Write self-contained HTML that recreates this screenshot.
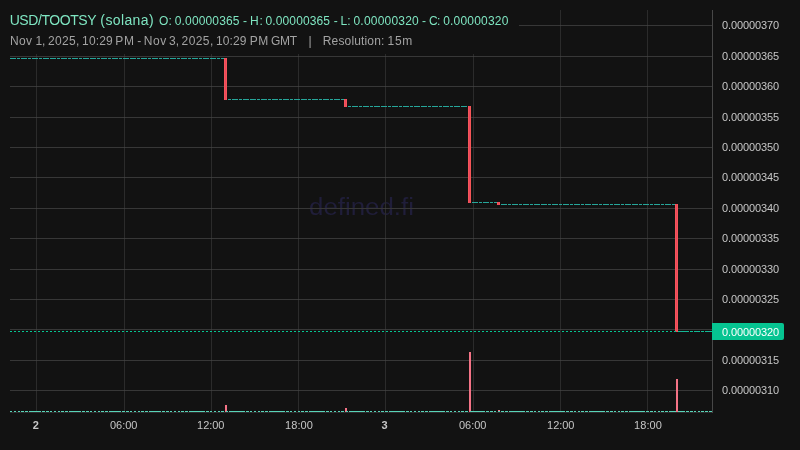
<!DOCTYPE html>
<html><head><meta charset="utf-8"><title>USD/TOOTSY</title>
<style>html,body{margin:0;padding:0;background:#121212;overflow:hidden}body{width:800px;height:450px;position:relative;font-family:"Liberation Sans",sans-serif}</style></head>
<body>
<svg width="800" height="450" viewBox="0 0 800 450" style="display:block;position:absolute;left:0;top:0;will-change:transform" font-family="Liberation Sans, sans-serif">
<rect width="800" height="450" fill="#121212"/>
<text x="309" y="214.6" font-size="23" fill="#201e3a" textLength="105" lengthAdjust="spacingAndGlyphs">defined.fi</text>
<g fill="#2b2b2b" shape-rendering="crispEdges">
<rect x="36" y="10" width="1" height="402"/>
<rect x="124" y="10" width="1" height="402"/>
<rect x="211" y="10" width="1" height="402"/>
<rect x="298" y="10" width="1" height="402"/>
<rect x="385" y="10" width="1" height="402"/>
<rect x="473" y="10" width="1" height="402"/>
<rect x="560" y="10" width="1" height="402"/>
<rect x="647" y="10" width="1" height="402"/>
</g>
<g fill="#373737" shape-rendering="crispEdges">
<rect x="10" y="25" width="702" height="1"/>
<rect x="10" y="56" width="702" height="1"/>
<rect x="10" y="86" width="702" height="1"/>
<rect x="10" y="117" width="702" height="1"/>
<rect x="10" y="147" width="702" height="1"/>
<rect x="10" y="177" width="702" height="1"/>
<rect x="10" y="208" width="702" height="1"/>
<rect x="10" y="238" width="702" height="1"/>
<rect x="10" y="269" width="702" height="1"/>
<rect x="10" y="299" width="702" height="1"/>
<rect x="10" y="329" width="702" height="1"/>
<rect x="10" y="360" width="702" height="1"/>
<rect x="10" y="390" width="702" height="1"/>
</g>
<g fill="#3e3e3e" shape-rendering="crispEdges">
<rect x="36" y="25" width="1" height="1"/>
<rect x="124" y="25" width="1" height="1"/>
<rect x="211" y="25" width="1" height="1"/>
<rect x="298" y="25" width="1" height="1"/>
<rect x="385" y="25" width="1" height="1"/>
<rect x="473" y="25" width="1" height="1"/>
<rect x="560" y="25" width="1" height="1"/>
<rect x="647" y="25" width="1" height="1"/>
<rect x="36" y="56" width="1" height="1"/>
<rect x="124" y="56" width="1" height="1"/>
<rect x="211" y="56" width="1" height="1"/>
<rect x="298" y="56" width="1" height="1"/>
<rect x="385" y="56" width="1" height="1"/>
<rect x="473" y="56" width="1" height="1"/>
<rect x="560" y="56" width="1" height="1"/>
<rect x="647" y="56" width="1" height="1"/>
<rect x="36" y="86" width="1" height="1"/>
<rect x="124" y="86" width="1" height="1"/>
<rect x="211" y="86" width="1" height="1"/>
<rect x="298" y="86" width="1" height="1"/>
<rect x="385" y="86" width="1" height="1"/>
<rect x="473" y="86" width="1" height="1"/>
<rect x="560" y="86" width="1" height="1"/>
<rect x="647" y="86" width="1" height="1"/>
<rect x="36" y="117" width="1" height="1"/>
<rect x="124" y="117" width="1" height="1"/>
<rect x="211" y="117" width="1" height="1"/>
<rect x="298" y="117" width="1" height="1"/>
<rect x="385" y="117" width="1" height="1"/>
<rect x="473" y="117" width="1" height="1"/>
<rect x="560" y="117" width="1" height="1"/>
<rect x="647" y="117" width="1" height="1"/>
<rect x="36" y="147" width="1" height="1"/>
<rect x="124" y="147" width="1" height="1"/>
<rect x="211" y="147" width="1" height="1"/>
<rect x="298" y="147" width="1" height="1"/>
<rect x="385" y="147" width="1" height="1"/>
<rect x="473" y="147" width="1" height="1"/>
<rect x="560" y="147" width="1" height="1"/>
<rect x="647" y="147" width="1" height="1"/>
<rect x="36" y="177" width="1" height="1"/>
<rect x="124" y="177" width="1" height="1"/>
<rect x="211" y="177" width="1" height="1"/>
<rect x="298" y="177" width="1" height="1"/>
<rect x="385" y="177" width="1" height="1"/>
<rect x="473" y="177" width="1" height="1"/>
<rect x="560" y="177" width="1" height="1"/>
<rect x="647" y="177" width="1" height="1"/>
<rect x="36" y="208" width="1" height="1"/>
<rect x="124" y="208" width="1" height="1"/>
<rect x="211" y="208" width="1" height="1"/>
<rect x="298" y="208" width="1" height="1"/>
<rect x="385" y="208" width="1" height="1"/>
<rect x="473" y="208" width="1" height="1"/>
<rect x="560" y="208" width="1" height="1"/>
<rect x="647" y="208" width="1" height="1"/>
<rect x="36" y="238" width="1" height="1"/>
<rect x="124" y="238" width="1" height="1"/>
<rect x="211" y="238" width="1" height="1"/>
<rect x="298" y="238" width="1" height="1"/>
<rect x="385" y="238" width="1" height="1"/>
<rect x="473" y="238" width="1" height="1"/>
<rect x="560" y="238" width="1" height="1"/>
<rect x="647" y="238" width="1" height="1"/>
<rect x="36" y="269" width="1" height="1"/>
<rect x="124" y="269" width="1" height="1"/>
<rect x="211" y="269" width="1" height="1"/>
<rect x="298" y="269" width="1" height="1"/>
<rect x="385" y="269" width="1" height="1"/>
<rect x="473" y="269" width="1" height="1"/>
<rect x="560" y="269" width="1" height="1"/>
<rect x="647" y="269" width="1" height="1"/>
<rect x="36" y="299" width="1" height="1"/>
<rect x="124" y="299" width="1" height="1"/>
<rect x="211" y="299" width="1" height="1"/>
<rect x="298" y="299" width="1" height="1"/>
<rect x="385" y="299" width="1" height="1"/>
<rect x="473" y="299" width="1" height="1"/>
<rect x="560" y="299" width="1" height="1"/>
<rect x="647" y="299" width="1" height="1"/>
<rect x="36" y="329" width="1" height="1"/>
<rect x="124" y="329" width="1" height="1"/>
<rect x="211" y="329" width="1" height="1"/>
<rect x="298" y="329" width="1" height="1"/>
<rect x="385" y="329" width="1" height="1"/>
<rect x="473" y="329" width="1" height="1"/>
<rect x="560" y="329" width="1" height="1"/>
<rect x="647" y="329" width="1" height="1"/>
<rect x="36" y="360" width="1" height="1"/>
<rect x="124" y="360" width="1" height="1"/>
<rect x="211" y="360" width="1" height="1"/>
<rect x="298" y="360" width="1" height="1"/>
<rect x="385" y="360" width="1" height="1"/>
<rect x="473" y="360" width="1" height="1"/>
<rect x="560" y="360" width="1" height="1"/>
<rect x="647" y="360" width="1" height="1"/>
<rect x="36" y="390" width="1" height="1"/>
<rect x="124" y="390" width="1" height="1"/>
<rect x="211" y="390" width="1" height="1"/>
<rect x="298" y="390" width="1" height="1"/>
<rect x="385" y="390" width="1" height="1"/>
<rect x="473" y="390" width="1" height="1"/>
<rect x="560" y="390" width="1" height="1"/>
<rect x="647" y="390" width="1" height="1"/>
</g>
<rect x="0" y="0" width="519" height="54" fill="#121212"/>
<g fill="#474747" shape-rendering="crispEdges"><rect x="712" y="10" width="1" height="403"/></g><rect x="10" y="412" width="702" height="1" fill="#2e2e2e" shape-rendering="crispEdges"/>
<g fill="#26a69a" shape-rendering="crispEdges">
<rect x="10" y="58" width="3" height="1"/>
<rect x="13" y="58" width="3" height="1"/>
<rect x="17" y="58" width="3" height="1"/>
<rect x="21" y="58" width="3" height="1"/>
<rect x="24" y="58" width="3" height="1"/>
<rect x="28" y="58" width="3" height="1"/>
<rect x="32" y="58" width="3" height="1"/>
<rect x="35" y="58" width="3" height="1"/>
<rect x="39" y="58" width="3" height="1"/>
<rect x="43" y="58" width="3" height="1"/>
<rect x="46" y="58" width="3" height="1"/>
<rect x="50" y="58" width="3" height="1"/>
<rect x="53" y="58" width="3" height="1"/>
<rect x="57" y="58" width="3" height="1"/>
<rect x="61" y="58" width="3" height="1"/>
<rect x="64" y="58" width="3" height="1"/>
<rect x="68" y="58" width="3" height="1"/>
<rect x="72" y="58" width="3" height="1"/>
<rect x="75" y="58" width="3" height="1"/>
<rect x="79" y="58" width="3" height="1"/>
<rect x="83" y="58" width="3" height="1"/>
<rect x="86" y="58" width="3" height="1"/>
<rect x="90" y="58" width="3" height="1"/>
<rect x="93" y="58" width="3" height="1"/>
<rect x="97" y="58" width="3" height="1"/>
<rect x="101" y="58" width="3" height="1"/>
<rect x="104" y="58" width="3" height="1"/>
<rect x="108" y="58" width="3" height="1"/>
<rect x="112" y="58" width="3" height="1"/>
<rect x="115" y="58" width="3" height="1"/>
<rect x="119" y="58" width="3" height="1"/>
<rect x="123" y="58" width="3" height="1"/>
<rect x="126" y="58" width="3" height="1"/>
<rect x="130" y="58" width="3" height="1"/>
<rect x="133" y="58" width="3" height="1"/>
<rect x="137" y="58" width="3" height="1"/>
<rect x="141" y="58" width="3" height="1"/>
<rect x="144" y="58" width="3" height="1"/>
<rect x="148" y="58" width="3" height="1"/>
<rect x="152" y="58" width="3" height="1"/>
<rect x="155" y="58" width="3" height="1"/>
<rect x="159" y="58" width="3" height="1"/>
<rect x="163" y="58" width="3" height="1"/>
<rect x="166" y="58" width="3" height="1"/>
<rect x="170" y="58" width="3" height="1"/>
<rect x="173" y="58" width="3" height="1"/>
<rect x="177" y="58" width="3" height="1"/>
<rect x="181" y="58" width="3" height="1"/>
<rect x="184" y="58" width="3" height="1"/>
<rect x="188" y="58" width="3" height="1"/>
<rect x="192" y="58" width="3" height="1"/>
<rect x="195" y="58" width="3" height="1"/>
<rect x="199" y="58" width="3" height="1"/>
<rect x="203" y="58" width="3" height="1"/>
<rect x="206" y="58" width="3" height="1"/>
<rect x="210" y="58" width="3" height="1"/>
<rect x="213" y="58" width="3" height="1"/>
<rect x="217" y="58" width="3" height="1"/>
<rect x="221" y="58" width="3" height="1"/>
<rect x="228" y="99" width="3" height="1"/>
<rect x="232" y="99" width="3" height="1"/>
<rect x="235" y="99" width="3" height="1"/>
<rect x="239" y="99" width="3" height="1"/>
<rect x="243" y="99" width="3" height="1"/>
<rect x="246" y="99" width="3" height="1"/>
<rect x="250" y="99" width="3" height="1"/>
<rect x="253" y="99" width="3" height="1"/>
<rect x="257" y="99" width="3" height="1"/>
<rect x="261" y="99" width="3" height="1"/>
<rect x="264" y="99" width="3" height="1"/>
<rect x="268" y="99" width="3" height="1"/>
<rect x="272" y="99" width="3" height="1"/>
<rect x="275" y="99" width="3" height="1"/>
<rect x="279" y="99" width="3" height="1"/>
<rect x="283" y="99" width="3" height="1"/>
<rect x="286" y="99" width="3" height="1"/>
<rect x="290" y="99" width="3" height="1"/>
<rect x="294" y="99" width="3" height="1"/>
<rect x="297" y="99" width="3" height="1"/>
<rect x="301" y="99" width="3" height="1"/>
<rect x="304" y="99" width="3" height="1"/>
<rect x="308" y="99" width="3" height="1"/>
<rect x="312" y="99" width="3" height="1"/>
<rect x="315" y="99" width="3" height="1"/>
<rect x="319" y="99" width="3" height="1"/>
<rect x="323" y="99" width="3" height="1"/>
<rect x="326" y="99" width="3" height="1"/>
<rect x="330" y="99" width="3" height="1"/>
<rect x="334" y="99" width="3" height="1"/>
<rect x="337" y="99" width="3" height="1"/>
<rect x="341" y="99" width="3" height="1"/>
<rect x="348" y="106" width="3" height="1"/>
<rect x="352" y="106" width="3" height="1"/>
<rect x="355" y="106" width="3" height="1"/>
<rect x="359" y="106" width="3" height="1"/>
<rect x="363" y="106" width="3" height="1"/>
<rect x="366" y="106" width="3" height="1"/>
<rect x="370" y="106" width="3" height="1"/>
<rect x="374" y="106" width="3" height="1"/>
<rect x="377" y="106" width="3" height="1"/>
<rect x="381" y="106" width="3" height="1"/>
<rect x="384" y="106" width="3" height="1"/>
<rect x="388" y="106" width="3" height="1"/>
<rect x="392" y="106" width="3" height="1"/>
<rect x="395" y="106" width="3" height="1"/>
<rect x="399" y="106" width="3" height="1"/>
<rect x="403" y="106" width="3" height="1"/>
<rect x="406" y="106" width="3" height="1"/>
<rect x="410" y="106" width="3" height="1"/>
<rect x="414" y="106" width="3" height="1"/>
<rect x="417" y="106" width="3" height="1"/>
<rect x="421" y="106" width="3" height="1"/>
<rect x="424" y="106" width="3" height="1"/>
<rect x="428" y="106" width="3" height="1"/>
<rect x="432" y="106" width="3" height="1"/>
<rect x="435" y="106" width="3" height="1"/>
<rect x="439" y="106" width="3" height="1"/>
<rect x="443" y="106" width="3" height="1"/>
<rect x="446" y="106" width="3" height="1"/>
<rect x="450" y="106" width="3" height="1"/>
<rect x="454" y="106" width="3" height="1"/>
<rect x="457" y="106" width="3" height="1"/>
<rect x="461" y="106" width="3" height="1"/>
<rect x="464" y="106" width="3" height="1"/>
<rect x="472" y="202" width="3" height="1"/>
<rect x="475" y="202" width="3" height="1"/>
<rect x="479" y="202" width="3" height="1"/>
<rect x="483" y="202" width="3" height="1"/>
<rect x="486" y="202" width="3" height="1"/>
<rect x="490" y="202" width="3" height="1"/>
<rect x="494" y="202" width="3" height="1"/>
<rect x="501" y="204" width="3" height="1"/>
<rect x="504" y="204" width="3" height="1"/>
<rect x="508" y="204" width="3" height="1"/>
<rect x="512" y="204" width="3" height="1"/>
<rect x="515" y="204" width="3" height="1"/>
<rect x="519" y="204" width="3" height="1"/>
<rect x="523" y="204" width="3" height="1"/>
<rect x="526" y="204" width="3" height="1"/>
<rect x="530" y="204" width="3" height="1"/>
<rect x="534" y="204" width="3" height="1"/>
<rect x="537" y="204" width="3" height="1"/>
<rect x="541" y="204" width="3" height="1"/>
<rect x="544" y="204" width="3" height="1"/>
<rect x="548" y="204" width="3" height="1"/>
<rect x="552" y="204" width="3" height="1"/>
<rect x="555" y="204" width="3" height="1"/>
<rect x="559" y="204" width="3" height="1"/>
<rect x="563" y="204" width="3" height="1"/>
<rect x="566" y="204" width="3" height="1"/>
<rect x="570" y="204" width="3" height="1"/>
<rect x="574" y="204" width="3" height="1"/>
<rect x="577" y="204" width="3" height="1"/>
<rect x="581" y="204" width="3" height="1"/>
<rect x="585" y="204" width="3" height="1"/>
<rect x="588" y="204" width="3" height="1"/>
<rect x="592" y="204" width="3" height="1"/>
<rect x="595" y="204" width="3" height="1"/>
<rect x="599" y="204" width="3" height="1"/>
<rect x="603" y="204" width="3" height="1"/>
<rect x="606" y="204" width="3" height="1"/>
<rect x="610" y="204" width="3" height="1"/>
<rect x="614" y="204" width="3" height="1"/>
<rect x="617" y="204" width="3" height="1"/>
<rect x="621" y="204" width="3" height="1"/>
<rect x="625" y="204" width="3" height="1"/>
<rect x="628" y="204" width="3" height="1"/>
<rect x="632" y="204" width="3" height="1"/>
<rect x="635" y="204" width="3" height="1"/>
<rect x="639" y="204" width="3" height="1"/>
<rect x="643" y="204" width="3" height="1"/>
<rect x="646" y="204" width="3" height="1"/>
<rect x="650" y="204" width="3" height="1"/>
<rect x="654" y="204" width="3" height="1"/>
<rect x="657" y="204" width="3" height="1"/>
<rect x="661" y="204" width="3" height="1"/>
<rect x="665" y="204" width="3" height="1"/>
<rect x="668" y="204" width="3" height="1"/>
<rect x="672" y="204" width="3" height="1"/>
<rect x="679" y="331" width="3" height="1"/>
<rect x="683" y="331" width="3" height="1"/>
<rect x="686" y="331" width="3" height="1"/>
<rect x="690" y="331" width="3" height="1"/>
<rect x="694" y="331" width="3" height="1"/>
<rect x="697" y="331" width="3" height="1"/>
<rect x="701" y="331" width="3" height="1"/>
<rect x="705" y="331" width="3" height="1"/>
<rect x="708" y="331" width="3" height="1"/>
</g>
<g fill="#f65658" shape-rendering="crispEdges">
<rect x="224" y="58" width="3" height="42"/>
<rect x="344" y="99" width="3" height="8"/>
<rect x="468" y="106" width="3" height="97"/>
<rect x="497" y="202" width="3" height="3"/>
<rect x="675" y="204" width="3" height="128"/>
</g>
<g fill="#e9475f" shape-rendering="crispEdges">
<rect x="225" y="58" width="1" height="42"/>
<rect x="345" y="99" width="1" height="8"/>
<rect x="469" y="106" width="1" height="97"/>
<rect x="498" y="202" width="1" height="3"/>
<rect x="676" y="204" width="1" height="128"/>
</g>
<g fill="#06c491" shape-rendering="crispEdges">
<rect x="10" y="331" width="2" height="1"/>
<rect x="14" y="331" width="2" height="1"/>
<rect x="18" y="331" width="2" height="1"/>
<rect x="22" y="331" width="2" height="1"/>
<rect x="26" y="331" width="2" height="1"/>
<rect x="30" y="331" width="2" height="1"/>
<rect x="34" y="331" width="2" height="1"/>
<rect x="38" y="331" width="2" height="1"/>
<rect x="42" y="331" width="2" height="1"/>
<rect x="46" y="331" width="2" height="1"/>
<rect x="50" y="331" width="2" height="1"/>
<rect x="54" y="331" width="2" height="1"/>
<rect x="58" y="331" width="2" height="1"/>
<rect x="62" y="331" width="2" height="1"/>
<rect x="66" y="331" width="2" height="1"/>
<rect x="70" y="331" width="2" height="1"/>
<rect x="74" y="331" width="2" height="1"/>
<rect x="78" y="331" width="2" height="1"/>
<rect x="82" y="331" width="2" height="1"/>
<rect x="86" y="331" width="2" height="1"/>
<rect x="90" y="331" width="2" height="1"/>
<rect x="94" y="331" width="2" height="1"/>
<rect x="98" y="331" width="2" height="1"/>
<rect x="102" y="331" width="2" height="1"/>
<rect x="106" y="331" width="2" height="1"/>
<rect x="110" y="331" width="2" height="1"/>
<rect x="114" y="331" width="2" height="1"/>
<rect x="118" y="331" width="2" height="1"/>
<rect x="122" y="331" width="2" height="1"/>
<rect x="126" y="331" width="2" height="1"/>
<rect x="130" y="331" width="2" height="1"/>
<rect x="134" y="331" width="2" height="1"/>
<rect x="138" y="331" width="2" height="1"/>
<rect x="142" y="331" width="2" height="1"/>
<rect x="146" y="331" width="2" height="1"/>
<rect x="150" y="331" width="2" height="1"/>
<rect x="154" y="331" width="2" height="1"/>
<rect x="158" y="331" width="2" height="1"/>
<rect x="162" y="331" width="2" height="1"/>
<rect x="166" y="331" width="2" height="1"/>
<rect x="170" y="331" width="2" height="1"/>
<rect x="174" y="331" width="2" height="1"/>
<rect x="178" y="331" width="2" height="1"/>
<rect x="182" y="331" width="2" height="1"/>
<rect x="186" y="331" width="2" height="1"/>
<rect x="190" y="331" width="2" height="1"/>
<rect x="194" y="331" width="2" height="1"/>
<rect x="198" y="331" width="2" height="1"/>
<rect x="202" y="331" width="2" height="1"/>
<rect x="206" y="331" width="2" height="1"/>
<rect x="210" y="331" width="2" height="1"/>
<rect x="214" y="331" width="2" height="1"/>
<rect x="218" y="331" width="2" height="1"/>
<rect x="222" y="331" width="2" height="1"/>
<rect x="226" y="331" width="2" height="1"/>
<rect x="230" y="331" width="2" height="1"/>
<rect x="234" y="331" width="2" height="1"/>
<rect x="238" y="331" width="2" height="1"/>
<rect x="242" y="331" width="2" height="1"/>
<rect x="246" y="331" width="2" height="1"/>
<rect x="250" y="331" width="2" height="1"/>
<rect x="254" y="331" width="2" height="1"/>
<rect x="258" y="331" width="2" height="1"/>
<rect x="262" y="331" width="2" height="1"/>
<rect x="266" y="331" width="2" height="1"/>
<rect x="270" y="331" width="2" height="1"/>
<rect x="274" y="331" width="2" height="1"/>
<rect x="278" y="331" width="2" height="1"/>
<rect x="282" y="331" width="2" height="1"/>
<rect x="286" y="331" width="2" height="1"/>
<rect x="290" y="331" width="2" height="1"/>
<rect x="294" y="331" width="2" height="1"/>
<rect x="298" y="331" width="2" height="1"/>
<rect x="302" y="331" width="2" height="1"/>
<rect x="306" y="331" width="2" height="1"/>
<rect x="310" y="331" width="2" height="1"/>
<rect x="314" y="331" width="2" height="1"/>
<rect x="318" y="331" width="2" height="1"/>
<rect x="322" y="331" width="2" height="1"/>
<rect x="326" y="331" width="2" height="1"/>
<rect x="330" y="331" width="2" height="1"/>
<rect x="334" y="331" width="2" height="1"/>
<rect x="338" y="331" width="2" height="1"/>
<rect x="342" y="331" width="2" height="1"/>
<rect x="346" y="331" width="2" height="1"/>
<rect x="350" y="331" width="2" height="1"/>
<rect x="354" y="331" width="2" height="1"/>
<rect x="358" y="331" width="2" height="1"/>
<rect x="362" y="331" width="2" height="1"/>
<rect x="366" y="331" width="2" height="1"/>
<rect x="370" y="331" width="2" height="1"/>
<rect x="374" y="331" width="2" height="1"/>
<rect x="378" y="331" width="2" height="1"/>
<rect x="382" y="331" width="2" height="1"/>
<rect x="386" y="331" width="2" height="1"/>
<rect x="390" y="331" width="2" height="1"/>
<rect x="394" y="331" width="2" height="1"/>
<rect x="398" y="331" width="2" height="1"/>
<rect x="402" y="331" width="2" height="1"/>
<rect x="406" y="331" width="2" height="1"/>
<rect x="410" y="331" width="2" height="1"/>
<rect x="414" y="331" width="2" height="1"/>
<rect x="418" y="331" width="2" height="1"/>
<rect x="422" y="331" width="2" height="1"/>
<rect x="426" y="331" width="2" height="1"/>
<rect x="430" y="331" width="2" height="1"/>
<rect x="434" y="331" width="2" height="1"/>
<rect x="438" y="331" width="2" height="1"/>
<rect x="442" y="331" width="2" height="1"/>
<rect x="446" y="331" width="2" height="1"/>
<rect x="450" y="331" width="2" height="1"/>
<rect x="454" y="331" width="2" height="1"/>
<rect x="458" y="331" width="2" height="1"/>
<rect x="462" y="331" width="2" height="1"/>
<rect x="466" y="331" width="2" height="1"/>
<rect x="470" y="331" width="2" height="1"/>
<rect x="474" y="331" width="2" height="1"/>
<rect x="478" y="331" width="2" height="1"/>
<rect x="482" y="331" width="2" height="1"/>
<rect x="486" y="331" width="2" height="1"/>
<rect x="490" y="331" width="2" height="1"/>
<rect x="494" y="331" width="2" height="1"/>
<rect x="498" y="331" width="2" height="1"/>
<rect x="502" y="331" width="2" height="1"/>
<rect x="506" y="331" width="2" height="1"/>
<rect x="510" y="331" width="2" height="1"/>
<rect x="514" y="331" width="2" height="1"/>
<rect x="518" y="331" width="2" height="1"/>
<rect x="522" y="331" width="2" height="1"/>
<rect x="526" y="331" width="2" height="1"/>
<rect x="530" y="331" width="2" height="1"/>
<rect x="534" y="331" width="2" height="1"/>
<rect x="538" y="331" width="2" height="1"/>
<rect x="542" y="331" width="2" height="1"/>
<rect x="546" y="331" width="2" height="1"/>
<rect x="550" y="331" width="2" height="1"/>
<rect x="554" y="331" width="2" height="1"/>
<rect x="558" y="331" width="2" height="1"/>
<rect x="562" y="331" width="2" height="1"/>
<rect x="566" y="331" width="2" height="1"/>
<rect x="570" y="331" width="2" height="1"/>
<rect x="574" y="331" width="2" height="1"/>
<rect x="578" y="331" width="2" height="1"/>
<rect x="582" y="331" width="2" height="1"/>
<rect x="586" y="331" width="2" height="1"/>
<rect x="590" y="331" width="2" height="1"/>
<rect x="594" y="331" width="2" height="1"/>
<rect x="598" y="331" width="2" height="1"/>
<rect x="602" y="331" width="2" height="1"/>
<rect x="606" y="331" width="2" height="1"/>
<rect x="610" y="331" width="2" height="1"/>
<rect x="614" y="331" width="2" height="1"/>
<rect x="618" y="331" width="2" height="1"/>
<rect x="622" y="331" width="2" height="1"/>
<rect x="626" y="331" width="2" height="1"/>
<rect x="630" y="331" width="2" height="1"/>
<rect x="634" y="331" width="2" height="1"/>
<rect x="638" y="331" width="2" height="1"/>
<rect x="642" y="331" width="2" height="1"/>
<rect x="646" y="331" width="2" height="1"/>
<rect x="650" y="331" width="2" height="1"/>
<rect x="654" y="331" width="2" height="1"/>
<rect x="658" y="331" width="2" height="1"/>
<rect x="662" y="331" width="2" height="1"/>
<rect x="666" y="331" width="2" height="1"/>
<rect x="670" y="331" width="2" height="1"/>
<rect x="674" y="331" width="2" height="1"/>
<rect x="678" y="331" width="2" height="1"/>
<rect x="682" y="331" width="2" height="1"/>
<rect x="686" y="331" width="2" height="1"/>
<rect x="690" y="331" width="2" height="1"/>
<rect x="694" y="331" width="2" height="1"/>
<rect x="698" y="331" width="2" height="1"/>
<rect x="702" y="331" width="2" height="1"/>
<rect x="706" y="331" width="2" height="1"/>
<rect x="710" y="331" width="2" height="1"/>
</g>
<g fill="#58d4b8" shape-rendering="crispEdges">
<rect x="10" y="411" width="2" height="1"/>
<rect x="14" y="411" width="2" height="1"/>
<rect x="18" y="411" width="2" height="1"/>
<rect x="21" y="411" width="2" height="1"/>
<rect x="25" y="411" width="2" height="1"/>
<rect x="29" y="411" width="2" height="1"/>
<rect x="32" y="411" width="2" height="1"/>
<rect x="36" y="411" width="2" height="1"/>
<rect x="39" y="411" width="2" height="1"/>
<rect x="43" y="411" width="2" height="1"/>
<rect x="47" y="411" width="2" height="1"/>
<rect x="50" y="411" width="2" height="1"/>
<rect x="54" y="411" width="2" height="1"/>
<rect x="58" y="411" width="2" height="1"/>
<rect x="61" y="411" width="2" height="1"/>
<rect x="65" y="411" width="2" height="1"/>
<rect x="69" y="411" width="2" height="1"/>
<rect x="72" y="411" width="2" height="1"/>
<rect x="76" y="411" width="2" height="1"/>
<rect x="79" y="411" width="2" height="1"/>
<rect x="83" y="411" width="2" height="1"/>
<rect x="87" y="411" width="2" height="1"/>
<rect x="90" y="411" width="2" height="1"/>
<rect x="94" y="411" width="2" height="1"/>
<rect x="98" y="411" width="2" height="1"/>
<rect x="101" y="411" width="2" height="1"/>
<rect x="105" y="411" width="2" height="1"/>
<rect x="109" y="411" width="2" height="1"/>
<rect x="112" y="411" width="2" height="1"/>
<rect x="116" y="411" width="2" height="1"/>
<rect x="119" y="411" width="2" height="1"/>
<rect x="123" y="411" width="2" height="1"/>
<rect x="127" y="411" width="2" height="1"/>
<rect x="130" y="411" width="2" height="1"/>
<rect x="134" y="411" width="2" height="1"/>
<rect x="138" y="411" width="2" height="1"/>
<rect x="141" y="411" width="2" height="1"/>
<rect x="145" y="411" width="2" height="1"/>
<rect x="149" y="411" width="2" height="1"/>
<rect x="152" y="411" width="2" height="1"/>
<rect x="156" y="411" width="2" height="1"/>
<rect x="159" y="411" width="2" height="1"/>
<rect x="163" y="411" width="2" height="1"/>
<rect x="167" y="411" width="2" height="1"/>
<rect x="170" y="411" width="2" height="1"/>
<rect x="174" y="411" width="2" height="1"/>
<rect x="178" y="411" width="2" height="1"/>
<rect x="181" y="411" width="2" height="1"/>
<rect x="185" y="411" width="2" height="1"/>
<rect x="189" y="411" width="2" height="1"/>
<rect x="192" y="411" width="2" height="1"/>
<rect x="196" y="411" width="2" height="1"/>
<rect x="200" y="411" width="2" height="1"/>
<rect x="203" y="411" width="2" height="1"/>
<rect x="207" y="411" width="2" height="1"/>
<rect x="210" y="411" width="2" height="1"/>
<rect x="214" y="411" width="2" height="1"/>
<rect x="218" y="411" width="2" height="1"/>
<rect x="221" y="411" width="2" height="1"/>
<rect x="229" y="411" width="2" height="1"/>
<rect x="232" y="411" width="2" height="1"/>
<rect x="236" y="411" width="2" height="1"/>
<rect x="240" y="411" width="2" height="1"/>
<rect x="243" y="411" width="2" height="1"/>
<rect x="247" y="411" width="2" height="1"/>
<rect x="250" y="411" width="2" height="1"/>
<rect x="254" y="411" width="2" height="1"/>
<rect x="258" y="411" width="2" height="1"/>
<rect x="261" y="411" width="2" height="1"/>
<rect x="265" y="411" width="2" height="1"/>
<rect x="269" y="411" width="2" height="1"/>
<rect x="272" y="411" width="2" height="1"/>
<rect x="276" y="411" width="2" height="1"/>
<rect x="280" y="411" width="2" height="1"/>
<rect x="283" y="411" width="2" height="1"/>
<rect x="287" y="411" width="2" height="1"/>
<rect x="290" y="411" width="2" height="1"/>
<rect x="294" y="411" width="2" height="1"/>
<rect x="298" y="411" width="2" height="1"/>
<rect x="301" y="411" width="2" height="1"/>
<rect x="305" y="411" width="2" height="1"/>
<rect x="309" y="411" width="2" height="1"/>
<rect x="312" y="411" width="2" height="1"/>
<rect x="316" y="411" width="2" height="1"/>
<rect x="320" y="411" width="2" height="1"/>
<rect x="323" y="411" width="2" height="1"/>
<rect x="327" y="411" width="2" height="1"/>
<rect x="330" y="411" width="2" height="1"/>
<rect x="334" y="411" width="2" height="1"/>
<rect x="338" y="411" width="2" height="1"/>
<rect x="341" y="411" width="2" height="1"/>
<rect x="349" y="411" width="2" height="1"/>
<rect x="352" y="411" width="2" height="1"/>
<rect x="356" y="411" width="2" height="1"/>
<rect x="360" y="411" width="2" height="1"/>
<rect x="363" y="411" width="2" height="1"/>
<rect x="367" y="411" width="2" height="1"/>
<rect x="370" y="411" width="2" height="1"/>
<rect x="374" y="411" width="2" height="1"/>
<rect x="378" y="411" width="2" height="1"/>
<rect x="381" y="411" width="2" height="1"/>
<rect x="385" y="411" width="2" height="1"/>
<rect x="389" y="411" width="2" height="1"/>
<rect x="392" y="411" width="2" height="1"/>
<rect x="396" y="411" width="2" height="1"/>
<rect x="400" y="411" width="2" height="1"/>
<rect x="403" y="411" width="2" height="1"/>
<rect x="407" y="411" width="2" height="1"/>
<rect x="410" y="411" width="2" height="1"/>
<rect x="414" y="411" width="2" height="1"/>
<rect x="418" y="411" width="2" height="1"/>
<rect x="421" y="411" width="2" height="1"/>
<rect x="425" y="411" width="2" height="1"/>
<rect x="429" y="411" width="2" height="1"/>
<rect x="432" y="411" width="2" height="1"/>
<rect x="436" y="411" width="2" height="1"/>
<rect x="440" y="411" width="2" height="1"/>
<rect x="443" y="411" width="2" height="1"/>
<rect x="447" y="411" width="2" height="1"/>
<rect x="450" y="411" width="2" height="1"/>
<rect x="454" y="411" width="2" height="1"/>
<rect x="458" y="411" width="2" height="1"/>
<rect x="461" y="411" width="2" height="1"/>
<rect x="465" y="411" width="2" height="1"/>
<rect x="472" y="411" width="2" height="1"/>
<rect x="476" y="411" width="2" height="1"/>
<rect x="480" y="411" width="2" height="1"/>
<rect x="483" y="411" width="2" height="1"/>
<rect x="487" y="411" width="2" height="1"/>
<rect x="491" y="411" width="2" height="1"/>
<rect x="494" y="411" width="2" height="1"/>
<rect x="501" y="411" width="2" height="1"/>
<rect x="505" y="411" width="2" height="1"/>
<rect x="509" y="411" width="2" height="1"/>
<rect x="512" y="411" width="2" height="1"/>
<rect x="516" y="411" width="2" height="1"/>
<rect x="520" y="411" width="2" height="1"/>
<rect x="523" y="411" width="2" height="1"/>
<rect x="527" y="411" width="2" height="1"/>
<rect x="531" y="411" width="2" height="1"/>
<rect x="534" y="411" width="2" height="1"/>
<rect x="538" y="411" width="2" height="1"/>
<rect x="541" y="411" width="2" height="1"/>
<rect x="545" y="411" width="2" height="1"/>
<rect x="549" y="411" width="2" height="1"/>
<rect x="552" y="411" width="2" height="1"/>
<rect x="556" y="411" width="2" height="1"/>
<rect x="560" y="411" width="2" height="1"/>
<rect x="563" y="411" width="2" height="1"/>
<rect x="567" y="411" width="2" height="1"/>
<rect x="571" y="411" width="2" height="1"/>
<rect x="574" y="411" width="2" height="1"/>
<rect x="578" y="411" width="2" height="1"/>
<rect x="581" y="411" width="2" height="1"/>
<rect x="585" y="411" width="2" height="1"/>
<rect x="589" y="411" width="2" height="1"/>
<rect x="592" y="411" width="2" height="1"/>
<rect x="596" y="411" width="2" height="1"/>
<rect x="600" y="411" width="2" height="1"/>
<rect x="603" y="411" width="2" height="1"/>
<rect x="607" y="411" width="2" height="1"/>
<rect x="611" y="411" width="2" height="1"/>
<rect x="614" y="411" width="2" height="1"/>
<rect x="618" y="411" width="2" height="1"/>
<rect x="621" y="411" width="2" height="1"/>
<rect x="625" y="411" width="2" height="1"/>
<rect x="629" y="411" width="2" height="1"/>
<rect x="632" y="411" width="2" height="1"/>
<rect x="636" y="411" width="2" height="1"/>
<rect x="640" y="411" width="2" height="1"/>
<rect x="643" y="411" width="2" height="1"/>
<rect x="647" y="411" width="2" height="1"/>
<rect x="651" y="411" width="2" height="1"/>
<rect x="654" y="411" width="2" height="1"/>
<rect x="658" y="411" width="2" height="1"/>
<rect x="661" y="411" width="2" height="1"/>
<rect x="665" y="411" width="2" height="1"/>
<rect x="669" y="411" width="2" height="1"/>
<rect x="672" y="411" width="2" height="1"/>
<rect x="680" y="411" width="2" height="1"/>
<rect x="683" y="411" width="2" height="1"/>
<rect x="687" y="411" width="2" height="1"/>
<rect x="691" y="411" width="2" height="1"/>
<rect x="694" y="411" width="2" height="1"/>
<rect x="698" y="411" width="2" height="1"/>
<rect x="701" y="411" width="2" height="1"/>
<rect x="705" y="411" width="2" height="1"/>
<rect x="709" y="411" width="2" height="1"/>
</g>
<g fill="#f47386" shape-rendering="crispEdges">
<rect x="225" y="405" width="2" height="7"/>
<rect x="345" y="408" width="2" height="4"/>
<rect x="469" y="352" width="2" height="60"/>
<rect x="498" y="410" width="2" height="2"/>
<rect x="676" y="379" width="2" height="33"/>
</g>
<g fill="#58d4b8" shape-rendering="crispEdges">
<rect x="10" y="411" width="2" height="1"/>
<rect x="14" y="411" width="2" height="1"/>
<rect x="18" y="411" width="2" height="1"/>
<rect x="22" y="411" width="2" height="1"/>
<rect x="26" y="411" width="2" height="1"/>
<rect x="30" y="411" width="2" height="1"/>
<rect x="34" y="411" width="2" height="1"/>
<rect x="38" y="411" width="2" height="1"/>
<rect x="42" y="411" width="2" height="1"/>
<rect x="46" y="411" width="2" height="1"/>
<rect x="50" y="411" width="2" height="1"/>
<rect x="54" y="411" width="2" height="1"/>
<rect x="58" y="411" width="2" height="1"/>
<rect x="62" y="411" width="2" height="1"/>
<rect x="66" y="411" width="2" height="1"/>
<rect x="70" y="411" width="2" height="1"/>
<rect x="74" y="411" width="2" height="1"/>
<rect x="78" y="411" width="2" height="1"/>
<rect x="82" y="411" width="2" height="1"/>
<rect x="86" y="411" width="2" height="1"/>
<rect x="90" y="411" width="2" height="1"/>
<rect x="94" y="411" width="2" height="1"/>
<rect x="98" y="411" width="2" height="1"/>
<rect x="102" y="411" width="2" height="1"/>
<rect x="106" y="411" width="2" height="1"/>
<rect x="110" y="411" width="2" height="1"/>
<rect x="114" y="411" width="2" height="1"/>
<rect x="118" y="411" width="2" height="1"/>
<rect x="122" y="411" width="2" height="1"/>
<rect x="126" y="411" width="2" height="1"/>
<rect x="130" y="411" width="2" height="1"/>
<rect x="134" y="411" width="2" height="1"/>
<rect x="138" y="411" width="2" height="1"/>
<rect x="142" y="411" width="2" height="1"/>
<rect x="146" y="411" width="2" height="1"/>
<rect x="150" y="411" width="2" height="1"/>
<rect x="154" y="411" width="2" height="1"/>
<rect x="158" y="411" width="2" height="1"/>
<rect x="162" y="411" width="2" height="1"/>
<rect x="166" y="411" width="2" height="1"/>
<rect x="170" y="411" width="2" height="1"/>
<rect x="174" y="411" width="2" height="1"/>
<rect x="178" y="411" width="2" height="1"/>
<rect x="182" y="411" width="2" height="1"/>
<rect x="186" y="411" width="2" height="1"/>
<rect x="190" y="411" width="2" height="1"/>
<rect x="194" y="411" width="2" height="1"/>
<rect x="198" y="411" width="2" height="1"/>
<rect x="202" y="411" width="2" height="1"/>
<rect x="206" y="411" width="2" height="1"/>
<rect x="210" y="411" width="2" height="1"/>
<rect x="214" y="411" width="2" height="1"/>
<rect x="218" y="411" width="2" height="1"/>
<rect x="222" y="411" width="2" height="1"/>
<rect x="226" y="411" width="2" height="1"/>
<rect x="230" y="411" width="2" height="1"/>
<rect x="234" y="411" width="2" height="1"/>
<rect x="238" y="411" width="2" height="1"/>
<rect x="242" y="411" width="2" height="1"/>
<rect x="246" y="411" width="2" height="1"/>
<rect x="250" y="411" width="2" height="1"/>
<rect x="254" y="411" width="2" height="1"/>
<rect x="258" y="411" width="2" height="1"/>
<rect x="262" y="411" width="2" height="1"/>
<rect x="266" y="411" width="2" height="1"/>
<rect x="270" y="411" width="2" height="1"/>
<rect x="274" y="411" width="2" height="1"/>
<rect x="278" y="411" width="2" height="1"/>
<rect x="282" y="411" width="2" height="1"/>
<rect x="286" y="411" width="2" height="1"/>
<rect x="290" y="411" width="2" height="1"/>
<rect x="294" y="411" width="2" height="1"/>
<rect x="298" y="411" width="2" height="1"/>
<rect x="302" y="411" width="2" height="1"/>
<rect x="306" y="411" width="2" height="1"/>
<rect x="310" y="411" width="2" height="1"/>
<rect x="314" y="411" width="2" height="1"/>
<rect x="318" y="411" width="2" height="1"/>
<rect x="322" y="411" width="2" height="1"/>
<rect x="326" y="411" width="2" height="1"/>
<rect x="330" y="411" width="2" height="1"/>
<rect x="334" y="411" width="2" height="1"/>
<rect x="338" y="411" width="2" height="1"/>
<rect x="342" y="411" width="2" height="1"/>
<rect x="346" y="411" width="2" height="1"/>
<rect x="350" y="411" width="2" height="1"/>
<rect x="354" y="411" width="2" height="1"/>
<rect x="358" y="411" width="2" height="1"/>
<rect x="362" y="411" width="2" height="1"/>
<rect x="366" y="411" width="2" height="1"/>
<rect x="370" y="411" width="2" height="1"/>
<rect x="374" y="411" width="2" height="1"/>
<rect x="378" y="411" width="2" height="1"/>
<rect x="382" y="411" width="2" height="1"/>
<rect x="386" y="411" width="2" height="1"/>
<rect x="390" y="411" width="2" height="1"/>
<rect x="394" y="411" width="2" height="1"/>
<rect x="398" y="411" width="2" height="1"/>
<rect x="402" y="411" width="2" height="1"/>
<rect x="406" y="411" width="2" height="1"/>
<rect x="410" y="411" width="2" height="1"/>
<rect x="414" y="411" width="2" height="1"/>
<rect x="418" y="411" width="2" height="1"/>
<rect x="422" y="411" width="2" height="1"/>
<rect x="426" y="411" width="2" height="1"/>
<rect x="430" y="411" width="2" height="1"/>
<rect x="434" y="411" width="2" height="1"/>
<rect x="438" y="411" width="2" height="1"/>
<rect x="442" y="411" width="2" height="1"/>
<rect x="446" y="411" width="2" height="1"/>
<rect x="450" y="411" width="2" height="1"/>
<rect x="454" y="411" width="2" height="1"/>
<rect x="458" y="411" width="2" height="1"/>
<rect x="462" y="411" width="2" height="1"/>
<rect x="466" y="411" width="2" height="1"/>
<rect x="470" y="411" width="2" height="1"/>
<rect x="474" y="411" width="2" height="1"/>
<rect x="478" y="411" width="2" height="1"/>
<rect x="482" y="411" width="2" height="1"/>
<rect x="486" y="411" width="2" height="1"/>
<rect x="490" y="411" width="2" height="1"/>
<rect x="494" y="411" width="2" height="1"/>
<rect x="498" y="411" width="2" height="1"/>
<rect x="502" y="411" width="2" height="1"/>
<rect x="506" y="411" width="2" height="1"/>
<rect x="510" y="411" width="2" height="1"/>
<rect x="514" y="411" width="2" height="1"/>
<rect x="518" y="411" width="2" height="1"/>
<rect x="522" y="411" width="2" height="1"/>
<rect x="526" y="411" width="2" height="1"/>
<rect x="530" y="411" width="2" height="1"/>
<rect x="534" y="411" width="2" height="1"/>
<rect x="538" y="411" width="2" height="1"/>
<rect x="542" y="411" width="2" height="1"/>
<rect x="546" y="411" width="2" height="1"/>
<rect x="550" y="411" width="2" height="1"/>
<rect x="554" y="411" width="2" height="1"/>
<rect x="558" y="411" width="2" height="1"/>
<rect x="562" y="411" width="2" height="1"/>
<rect x="566" y="411" width="2" height="1"/>
<rect x="570" y="411" width="2" height="1"/>
<rect x="574" y="411" width="2" height="1"/>
<rect x="578" y="411" width="2" height="1"/>
<rect x="582" y="411" width="2" height="1"/>
<rect x="586" y="411" width="2" height="1"/>
<rect x="590" y="411" width="2" height="1"/>
<rect x="594" y="411" width="2" height="1"/>
<rect x="598" y="411" width="2" height="1"/>
<rect x="602" y="411" width="2" height="1"/>
<rect x="606" y="411" width="2" height="1"/>
<rect x="610" y="411" width="2" height="1"/>
<rect x="614" y="411" width="2" height="1"/>
<rect x="618" y="411" width="2" height="1"/>
<rect x="622" y="411" width="2" height="1"/>
<rect x="626" y="411" width="2" height="1"/>
<rect x="630" y="411" width="2" height="1"/>
<rect x="634" y="411" width="2" height="1"/>
<rect x="638" y="411" width="2" height="1"/>
<rect x="642" y="411" width="2" height="1"/>
<rect x="646" y="411" width="2" height="1"/>
<rect x="650" y="411" width="2" height="1"/>
<rect x="654" y="411" width="2" height="1"/>
<rect x="658" y="411" width="2" height="1"/>
<rect x="662" y="411" width="2" height="1"/>
<rect x="666" y="411" width="2" height="1"/>
<rect x="670" y="411" width="2" height="1"/>
<rect x="674" y="411" width="2" height="1"/>
<rect x="678" y="411" width="2" height="1"/>
<rect x="682" y="411" width="2" height="1"/>
<rect x="686" y="411" width="2" height="1"/>
<rect x="690" y="411" width="2" height="1"/>
<rect x="694" y="411" width="2" height="1"/>
<rect x="698" y="411" width="2" height="1"/>
<rect x="702" y="411" width="2" height="1"/>
<rect x="706" y="411" width="2" height="1"/>
<rect x="710" y="411" width="2" height="1"/>
</g>
<g font-size="11" fill="#c6c6c6">
<text x="722.05 727.95 730.95 736.95 742.95 748.95 754.95 760.95 766.95 772.95" y="29.3">0.00000370</text>
<text x="722.05 727.95 730.95 736.95 742.95 748.95 754.95 760.95 766.95 772.95" y="60.3">0.00000365</text>
<text x="722.05 727.95 730.95 736.95 742.95 748.95 754.95 760.95 766.95 772.95" y="90.3">0.00000360</text>
<text x="722.05 727.95 730.95 736.95 742.95 748.95 754.95 760.95 766.95 772.95" y="121.3">0.00000355</text>
<text x="722.05 727.95 730.95 736.95 742.95 748.95 754.95 760.95 766.95 772.95" y="151.3">0.00000350</text>
<text x="722.05 727.95 730.95 736.95 742.95 748.95 754.95 760.95 766.95 772.95" y="181.3">0.00000345</text>
<text x="722.05 727.95 730.95 736.95 742.95 748.95 754.95 760.95 766.95 772.95" y="212.3">0.00000340</text>
<text x="722.05 727.95 730.95 736.95 742.95 748.95 754.95 760.95 766.95 772.95" y="242.3">0.00000335</text>
<text x="722.05 727.95 730.95 736.95 742.95 748.95 754.95 760.95 766.95 772.95" y="273.3">0.00000330</text>
<text x="722.05 727.95 730.95 736.95 742.95 748.95 754.95 760.95 766.95 772.95" y="303.3">0.00000325</text>
<text x="722.05 727.95 730.95 736.95 742.95 748.95 754.95 760.95 766.95 772.95" y="364.3">0.00000315</text>
<text x="722.05 727.95 730.95 736.95 742.95 748.95 754.95 760.95 766.95 772.95" y="394.3">0.00000310</text>
</g>
<path d="M712 323H782a2 2 0 0 1 2 2V338a2 2 0 0 1 -2 2H712Z" fill="#06c491"/>
<text x="722.05 727.95 730.95 736.95 742.95 748.95 754.95 760.95 766.95 772.95" y="336" font-size="11" fill="#ffffff">0.00000320</text>
<text x="110.03" y="429" font-size="11" fill="#c6c6c6" letter-spacing="-0.038">06:00</text>
<text x="197.12" y="429" font-size="11" fill="#c6c6c6" letter-spacing="-0.062">12:00</text>
<text x="285.12" y="429" font-size="11" fill="#c6c6c6" letter-spacing="0.037">18:00</text>
<text x="459.02" y="429" font-size="11" fill="#c6c6c6" letter-spacing="-0.037">06:00</text>
<text x="547.12" y="429" font-size="11" fill="#c6c6c6" letter-spacing="-0.062">12:00</text>
<text x="634.12" y="429" font-size="11" fill="#c6c6c6" letter-spacing="0.037">18:00</text>
<text x="32.73" y="429" font-size="11" fill="#c6c6c6" font-weight="bold">2</text>
<text x="381.45" y="429" font-size="11" fill="#c6c6c6" font-weight="bold">3</text>
<text x="9.70" y="25" font-size="14" fill="#7fe6c2" letter-spacing="-0.431">USD/TOOTSY</text>
<text x="100.33" y="25" font-size="14" fill="#7fe6c2" letter-spacing="0.389">(solana)</text>
<text x="159.10" y="25" font-size="12" fill="#7fe6c2" letter-spacing="0.025">O:</text>
<text x="174.75" y="25" font-size="12" fill="#7fe6c2" letter-spacing="0.153">0.00000365</text>
<text x="243.00" y="25" font-size="12" fill="#7fe6c2">-</text>
<text x="250.00" y="25" font-size="12" fill="#7fe6c2" letter-spacing="0.800">H:</text>
<text x="265.50" y="25" font-size="12" fill="#7fe6c2" letter-spacing="0.125">0.00000365</text>
<text x="333.70" y="25" font-size="12" fill="#7fe6c2">-</text>
<text x="340.60" y="25" font-size="12" fill="#7fe6c2" letter-spacing="0.100">L:</text>
<text x="353.50" y="25" font-size="12" fill="#7fe6c2" letter-spacing="0.200">0.00000320</text>
<text x="422.00" y="25" font-size="12" fill="#7fe6c2">-</text>
<text x="428.88" y="25" font-size="12" fill="#7fe6c2" letter-spacing="-0.450">C:</text>
<text x="443.20" y="25" font-size="12" fill="#7fe6c2" letter-spacing="0.200">0.00000320</text>
<text x="10.00" y="44.5" font-size="12" fill="#a3a3a3" letter-spacing="0.375">Nov</text>
<text x="35.62" y="44.5" font-size="12" fill="#a3a3a3" letter-spacing="-0.325">1,</text>
<text x="47.88" y="44.5" font-size="12" fill="#a3a3a3" letter-spacing="0.331">2025,</text>
<text x="82.12" y="44.5" font-size="12" fill="#a3a3a3" letter-spacing="0.144">10:29</text>
<text x="115.25" y="44.5" font-size="12" fill="#a3a3a3" letter-spacing="0.800">PM</text>
<text x="137.20" y="44.5" font-size="12" fill="#a3a3a3">-</text>
<text x="143.75" y="44.5" font-size="12" fill="#a3a3a3" letter-spacing="0.600">Nov</text>
<text x="169.00" y="44.5" font-size="12" fill="#a3a3a3" letter-spacing="0.200">3,</text>
<text x="181.62" y="44.5" font-size="12" fill="#a3a3a3" letter-spacing="0.406">2025,</text>
<text x="216.12" y="44.5" font-size="12" fill="#a3a3a3" letter-spacing="0.044">10:29</text>
<text x="249.75" y="44.5" font-size="12" fill="#a3a3a3" letter-spacing="0.500">PM</text>
<text x="271.12" y="44.5" font-size="12" fill="#a3a3a3" letter-spacing="-0.350">GMT</text>
<text x="308.50" y="44.5" font-size="12" fill="#a3a3a3">|</text>
<text x="322.75" y="44.5" font-size="12" fill="#a3a3a3" letter-spacing="0.155">Resolution:</text>
<text x="387.62" y="44.5" font-size="12" fill="#a3a3a3" letter-spacing="0.625">15m</text>
</svg>
</body></html>
